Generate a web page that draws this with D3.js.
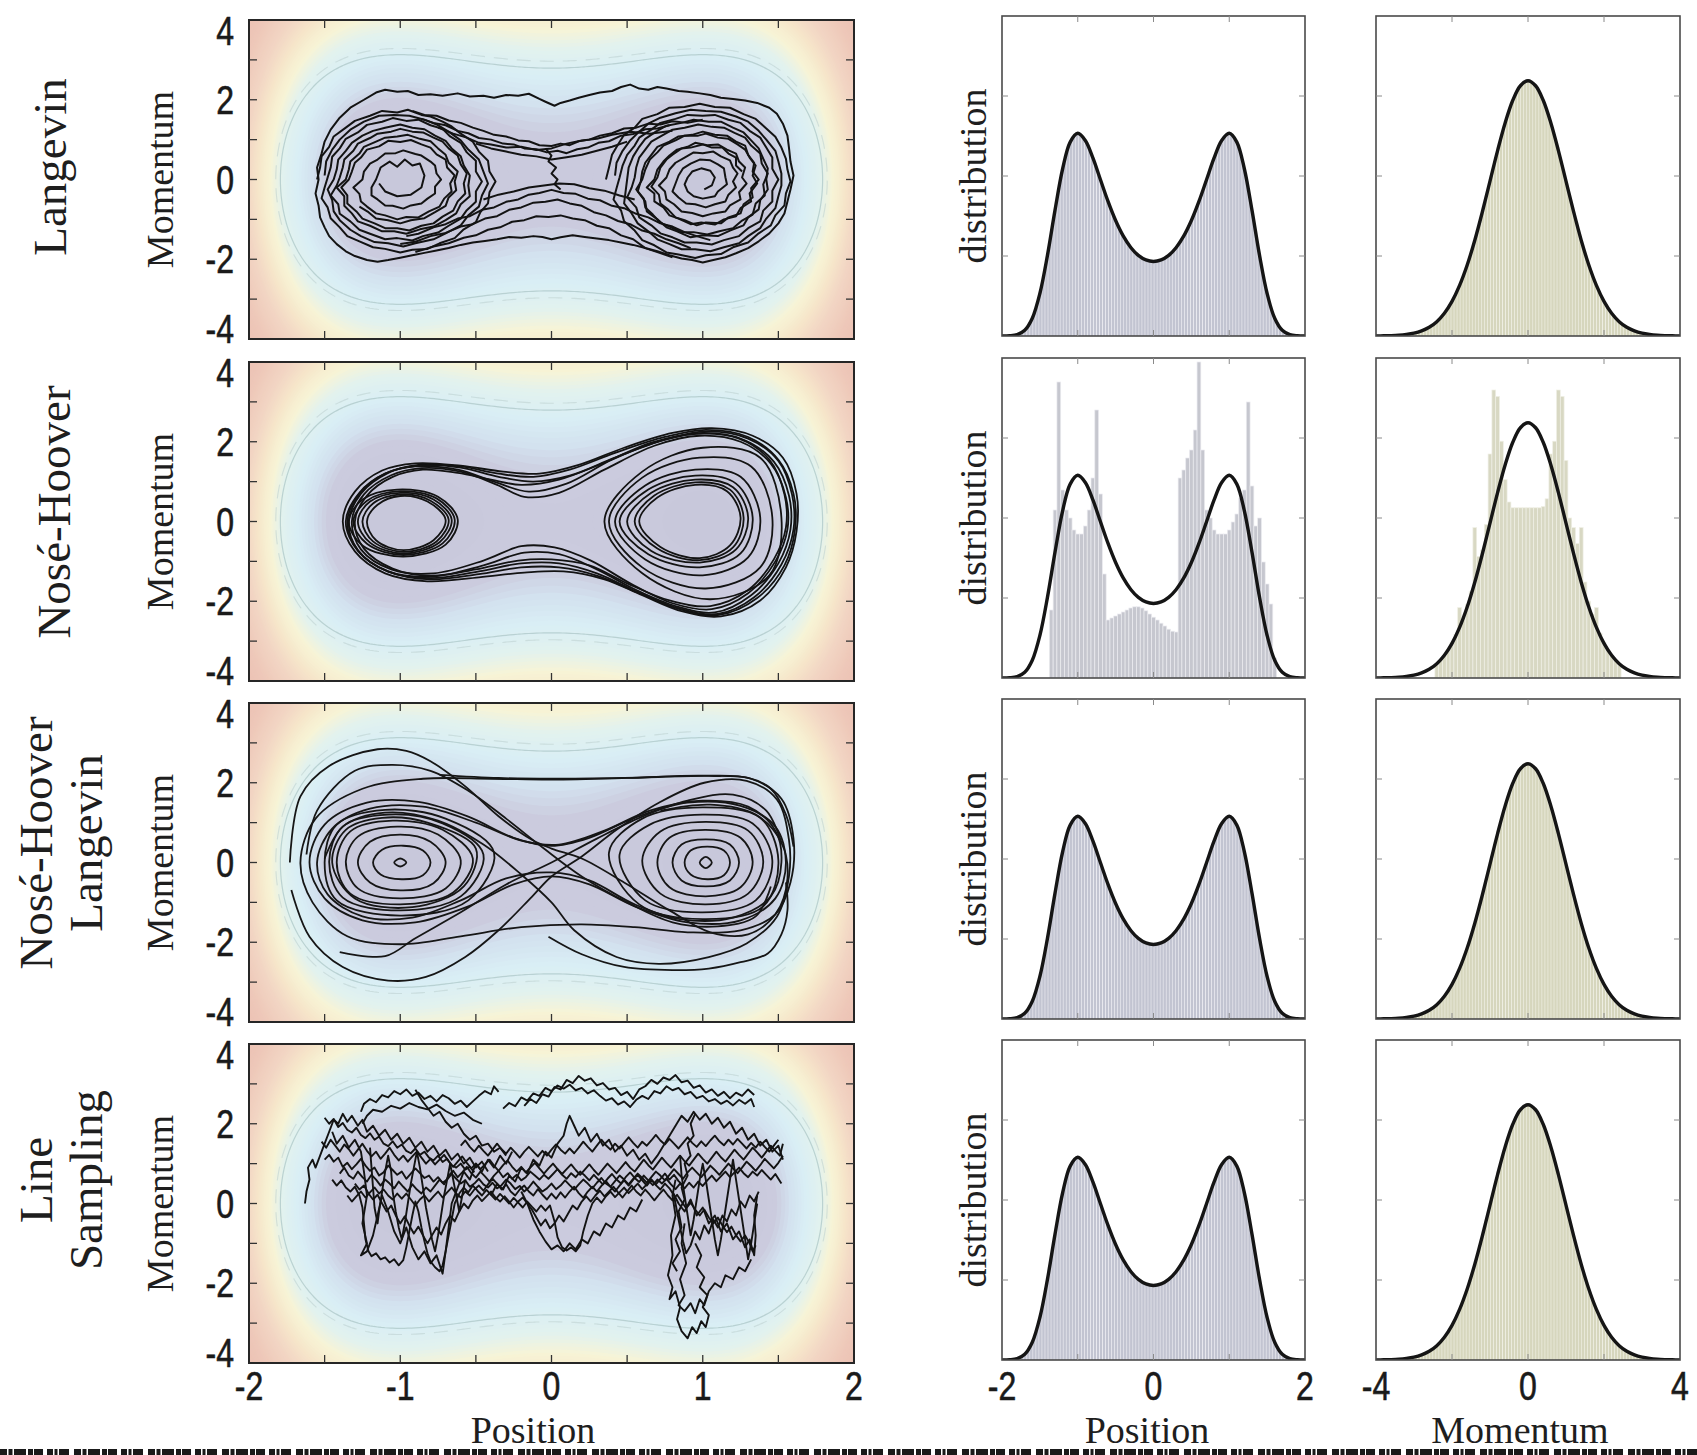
<!DOCTYPE html>
<html>
<head>
<meta charset="utf-8">
<script src="https://cdn.jsdelivr.net/npm/d3@7"></script>
<style>
  body { margin: 0; background: #fff; }
  svg { display: block; }
  .serif { font-family: "Liberation Serif", "DejaVu Serif", serif; fill: #1e1e1e; }
  .tick-label { font-family: "Liberation Sans", Arial, sans-serif; fill: #1a1a1a; stroke: #1a1a1a; stroke-width: 0.6; }
</style>
</head>
<body>
<svg id="fig" width="1697" height="1455"></svg>
<script>
// ---- data ----
var rowLabels = [["Langevin"], ["Nosé-Hoover"], ["Nosé-Hoover", "Langevin"], ["Line", "Sampling"]];

var leftXTicks = [-2, -1.5, -1, -0.5, 0, 0.5, 1, 1.5, 2];
var leftXLabels = [-2, -1, 0, 1, 2];
var leftYTicks = [-4, -3, -2, -1, 0, 1, 2, 3, 4];
var leftYLabels = [4, 2, 0, -2, -4];
var posXTicks = [-1, 0, 1];
var posXLabels = [-2, 0, 2];
var momXTicks = [-2, 0, 2];
var momXLabels = [-4, 0, 4];
var posYTicks = [0.2, 0.4, 0.6];
var momYTicks = [0.125, 0.25, 0.375];

// target densities (black curves)
var posGrid = [-2,-1.9,-1.8,-1.7,-1.6,-1.5,-1.4,-1.3,-1.2,-1.1,-1,-0.9,-0.8,-0.7,-0.6,-0.5,-0.4,-0.3,-0.2,-0.1,0,
  0.1,0.2,0.3,0.4,0.5,0.6,0.7,0.8,0.9,1,1.1,1.2,1.3,1.4,1.5,1.6,1.7,1.8,1.9,2];
var posDensity = [0.0001,0.0006,0.0034,0.0142,0.0444,0.1062,0.2016,0.3147,0.4175,0.4848,0.5067,0.4887,0.4451,0.3906,0.3364,0.2887,0.2502,0.2214,0.2016,0.1902,0.1864,
  0.1902,0.2016,0.2214,0.2502,0.2887,0.3364,0.3906,0.4451,0.4887,0.5067,0.4848,0.4175,0.3147,0.2016,0.1062,0.0444,0.0142,0.0034,0.0006,0.0001];
var momGrid = [-4,-3.8,-3.6,-3.4,-3.2,-3,-2.8,-2.6,-2.4,-2.2,-2,-1.8,-1.6,-1.4,-1.2,-1,-0.8,-0.6,-0.4,-0.2,0,
  0.2,0.4,0.6,0.8,1,1.2,1.4,1.6,1.8,2,2.2,2.4,2.6,2.8,3,3.2,3.4,3.6,3.8,4];
var momDensity = [0.0001,0.0003,0.0006,0.0012,0.0024,0.0044,0.0079,0.0136,0.0224,0.0355,0.0540,0.0790,0.1109,0.1497,0.1942,0.2420,0.2897,0.3332,0.3683,0.3910,0.3989,
  0.3910,0.3683,0.3332,0.2897,0.2420,0.1942,0.1497,0.1109,0.0790,0.0540,0.0355,0.0224,0.0136,0.0079,0.0044,0.0024,0.0012,0.0006,0.0003,0.0001];

// Nosé-Hoover histograms (the only ones that depart from the target)
var nhPosStart = -1.375, nhPosWidth = 0.05;
var nhPosCounts = [0.17,0.42,0.74,0.47,0.42,0.40,0.37,0.36,0.36,0.38,0.42,0.50,0.67,0.46,0.26,
  0.145,0.15,0.155,0.16,0.165,0.17,0.175,0.178,0.178,0.175,0.168,0.16,0.152,0.145,0.137,0.13,0.122,0.117,0.115,
  0.50,0.52,0.55,0.57,0.62,0.79,0.57,0.42,0.40,0.37,0.36,0.36,0.36,0.37,0.39,0.41,0.45,0.47,0.69,0.48,0.38,0.40,0.29,0.235,0.185,0.05];
var nhMomStart = -2.45, nhMomWidth = 0.1;
var nhMomCounts = [0.02,0.027,0.035,0.045,0.056,0.068,0.11,0.095,0.115,0.135,0.235,0.19,0.2,0.24,0.35,0.45,0.44,0.37,0.31,0.275,
  0.266,0.266,0.266,0.266,0.266,0.266,0.266,0.266,0.268,0.28,0.35,0.37,0.45,0.44,0.34,0.25,0.235,0.21,0.235,0.15,0.12,0.1,0.11,0.07,0.056,0.045,0.035,0.027,0.02];

// energy-contour levels drawn over the phase-space background
var contourSolid = [4.9];
var contourDashed = [5.4];

// trajectories, "x,p x,p ..." in data units
var langevinPaths = [
 "-1.55,0.0 -1.53,0.3 -1.52,0.58 -1.47,0.82 -1.44,1.08 -1.36,1.3 -1.3,1.47 -1.2,1.6 -1.12,1.72 -1.02,1.68 -0.95,1.75 -0.86,1.62 -0.8,1.58 -0.72,1.45 -0.66,1.33 -0.6,1.15 -0.52,0.95 -0.48,0.7 -0.42,0.47 -0.41,0.2 -0.37,-0.05 -0.41,-0.32 -0.42,-0.6 -0.47,-0.82 -0.5,-1.07 -0.58,-1.25 -0.64,-1.47 -0.74,-1.6 -0.82,-1.74 -0.92,-1.76 -1.0,-1.83 -1.1,-1.74 -1.18,-1.7 -1.27,-1.55 -1.35,-1.42 -1.4,-1.2 -1.46,-0.97 -1.48,-0.7 -1.52,-0.47 -1.5,-0.2 -1.48,0.05 -1.46,0.3 -1.45,0.57 -1.4,0.78 -1.36,1.02 -1.28,1.18 -1.22,1.37 -1.12,1.45 -1.05,1.54 -0.96,1.47 -0.88,1.5 -0.8,1.36 -0.72,1.27 -0.67,1.08 -0.6,0.92 -0.56,0.68 -0.5,0.47 -0.5,0.2 -0.46,-0.05 -0.5,-0.3 -0.5,-0.56 -0.56,-0.77 -0.6,-0.98 -0.68,-1.16 -0.75,-1.33 -0.85,-1.42 -0.92,-1.53 -1.02,-1.47 -1.1,-1.5 -1.2,-1.36 -1.27,-1.26 -1.33,-1.05 -1.4,-0.86 -1.41,-0.62 -1.46,-0.4 -1.42,-0.15 -1.4,0.05 -1.38,0.3 -1.37,0.5 -1.31,0.72 -1.28,0.9 -1.2,1.04 -1.15,1.15 -1.06,1.2 -1.0,1.27 -0.92,1.2 -0.85,1.18 -0.78,1.05 -0.72,0.95 -0.68,0.78 -0.62,0.6 -0.6,0.38 -0.56,0.15 -0.58,-0.1 -0.57,-0.35 -0.62,-0.55 -0.65,-0.78 -0.72,-0.93 -0.78,-1.1 -0.86,-1.16 -0.94,-1.28 -1.02,-1.22 -1.1,-1.22 -1.17,-1.1 -1.25,-0.98 -1.29,-0.8 -1.35,-0.6 -1.35,-0.4 -1.39,-0.2 -1.34,0.0 -1.32,0.2 -1.3,0.42 -1.26,0.55 -1.22,0.75 -1.14,0.83 -1.08,0.97 -1.0,0.94 -0.93,0.99 -0.86,0.88 -0.8,0.8 -0.76,0.63 -0.7,0.5 -0.69,0.3 -0.64,0.1 -0.67,-0.1 -0.66,-0.3 -0.71,-0.48 -0.74,-0.68 -0.81,-0.8 -0.88,-0.95 -0.96,-0.94 -1.02,-1.0 -1.1,-0.9 -1.16,-0.85 -1.22,-0.68 -1.26,-0.55 -1.27,-0.36 -1.31,-0.2 -1.25,0.0 -1.24,0.2 -1.2,0.4 -1.15,0.5 -1.1,0.65 -1.03,0.66 -0.98,0.73 -0.9,0.64 -0.86,0.6 -0.8,0.45 -0.77,0.35 -0.76,0.15 -0.73,0.0 -0.77,-0.18 -0.77,-0.35 -0.82,-0.48 -0.86,-0.6 -0.93,-0.65 -0.98,-0.73 -1.05,-0.66 -1.1,-0.65 -1.15,-0.5 -1.19,-0.4 -1.19,-0.2 -1.16,0.0 -1.13,0.3 -1.07,0.45 -1.02,0.32 -0.97,0.5 -0.92,0.35 -0.87,0.4 -0.84,0.1 -0.86,-0.2 -0.93,-0.38 -1.02,-0.42 -1.1,-0.3 -1.14,-0.1",
 "-1.5,0.1 -1.49,0.45 -1.45,0.75 -1.4,1.0 -1.33,1.25 -1.24,1.45 -1.14,1.6 -1.04,1.62 -0.94,1.6 -0.84,1.5 -0.76,1.38 -0.68,1.2 -0.6,0.98 -0.55,0.75 -0.48,0.5 -0.45,0.2 -0.42,-0.1 -0.46,-0.4 -0.48,-0.68 -0.55,-0.9 -0.6,-1.15 -0.7,-1.35 -0.78,-1.5 -0.9,-1.6 -0.98,-1.68 -1.08,-1.6 -1.17,-1.57 -1.26,-1.42 -1.33,-1.26 -1.4,-1.02 -1.44,-0.8 -1.45,-0.52 -1.48,-0.25 -1.44,0.0 -1.42,0.25 -1.41,0.5 -1.36,0.72 -1.32,0.92 -1.25,1.1 -1.18,1.22 -1.1,1.3 -1.0,1.38 -0.92,1.3 -0.84,1.26 -0.77,1.1 -0.7,0.97 -0.66,0.78 -0.6,0.58 -0.58,0.35 -0.54,0.1 -0.55,-0.15 -0.54,-0.42 -0.6,-0.62 -0.63,-0.85 -0.7,-1.02 -0.78,-1.18 -0.87,-1.25 -0.96,-1.36 -1.04,-1.3 -1.12,-1.3 -1.2,-1.16 -1.28,-1.05 -1.32,-0.85 -1.37,-0.66 -1.37,-0.42 -1.42,-0.2 -1.36,0.0 -1.34,0.25 -1.33,0.45 -1.27,0.65 -1.24,0.82 -1.16,0.95 -1.1,1.05 -1.02,1.08 -0.95,1.12 -0.87,1.02 -0.8,0.96 -0.75,0.78 -0.7,0.62 -0.68,0.42 -0.62,0.2 -0.64,-0.05 -0.63,-0.27 -0.68,-0.45 -0.7,-0.66 -0.77,-0.82 -0.84,-0.97 -0.93,-1.02 -1.0,-1.1 -1.08,-1.02 -1.16,-0.98 -1.21,-0.82 -1.27,-0.68",
 "0.36,0.0 0.38,0.3 0.4,0.62 0.44,0.88 0.48,1.12 0.55,1.3 0.6,1.52 0.7,1.64 0.78,1.8 0.88,1.82 0.98,1.9 1.08,1.82 1.18,1.8 1.27,1.64 1.35,1.52 1.42,1.28 1.48,1.07 1.52,0.8 1.55,0.52 1.56,0.25 1.58,-0.05 1.55,-0.35 1.54,-0.65 1.48,-0.9 1.45,-1.15 1.37,-1.35 1.3,-1.58 1.2,-1.7 1.12,-1.87 1.02,-1.9 0.95,-1.97 0.84,-1.88 0.76,-1.83 0.68,-1.65 0.6,-1.52 0.55,-1.28 0.48,-1.05 0.46,-0.78 0.41,-0.5 0.43,-0.22 0.45,0.05 0.47,0.35 0.5,0.62 0.55,0.85 0.58,1.05 0.66,1.25 0.72,1.42 0.82,1.52 0.9,1.62 1.0,1.6 1.08,1.62 1.17,1.5 1.25,1.42 1.31,1.22 1.38,1.05 1.42,0.8 1.46,0.55 1.46,0.27 1.5,0.0 1.46,-0.28 1.46,-0.55 1.4,-0.78 1.38,-1.05 1.3,-1.22 1.24,-1.42 1.14,-1.52 1.06,-1.63 0.96,-1.58 0.88,-1.58 0.8,-1.45 0.72,-1.35 0.66,-1.15 0.58,-0.95 0.56,-0.7 0.5,-0.45 0.53,-0.2 0.55,0.05 0.56,0.3 0.58,0.55 0.62,0.75 0.66,0.95 0.73,1.1 0.8,1.25 0.88,1.3 0.97,1.38 1.06,1.32 1.14,1.3 1.21,1.17 1.28,1.05 1.32,0.85 1.38,0.65 1.39,0.4 1.43,0.15 1.4,-0.12 1.41,-0.4 1.35,-0.6 1.33,-0.88 1.26,-1.03 1.2,-1.22 1.11,-1.3 1.03,-1.38 0.94,-1.32 0.86,-1.32 0.78,-1.18 0.72,-1.08 0.67,-0.88 0.62,-0.7 0.61,-0.48 0.56,-0.25 0.6,0.0 0.62,0.25 0.65,0.5 0.7,0.68 0.74,0.85 0.82,0.98 0.88,1.1 0.97,1.1 1.02,1.15 1.1,1.05 1.17,1.02 1.23,0.88 1.28,0.75 1.31,0.55 1.35,0.35 1.33,0.1 1.36,-0.1 1.31,-0.35 1.32,-0.55 1.25,-0.72 1.22,-0.92 1.14,-1.0 1.08,-1.13 0.99,-1.08 0.92,-1.12 0.84,-0.98 0.78,-0.9 0.74,-0.7 0.68,-0.55 0.68,-0.35 0.63,-0.2 0.68,0.0 0.7,0.25 0.74,0.45 0.78,0.6 0.83,0.75 0.9,0.82 0.95,0.92 1.03,0.86 1.1,0.88 1.16,0.75 1.22,0.65 1.24,0.45 1.28,0.3 1.26,0.05 1.29,-0.1 1.24,-0.32 1.25,-0.5 1.18,-0.65 1.15,-0.8 1.07,-0.85 1.0,-0.92 0.93,-0.84 0.86,-0.8 0.81,-0.62 0.76,-0.5 0.75,-0.3 0.71,-0.15 0.76,0.05 0.78,0.25 0.82,0.42 0.88,0.55 0.94,0.68 1.0,0.66 1.07,0.7 1.12,0.58 1.18,0.48 1.2,0.3 1.23,0.15 1.2,-0.05 1.22,-0.2 1.17,-0.38 1.15,-0.55 1.08,-0.62 1.02,-0.7 0.95,-0.62 0.89,-0.6 0.84,-0.45 0.8,-0.3 0.82,-0.1 0.84,0.1 0.87,0.28 0.92,0.4 0.98,0.5 1.05,0.48 1.1,0.38 1.14,0.28 1.15,0.05 1.16,-0.12 1.1,-0.3 1.08,-0.42 1.0,-0.48 0.94,-0.42 0.9,-0.3 0.88,-0.12 0.9,0.05 0.93,0.2 0.99,0.28 1.05,0.22 1.08,0.05 1.06,-0.15 1.01,-0.25",
 "0.42,0.1 0.43,0.42 0.47,0.72 0.52,0.98 0.58,1.2 0.64,1.4 0.72,1.55 0.82,1.66 0.92,1.75 1.02,1.72 1.12,1.7 1.22,1.58 1.3,1.45 1.37,1.22 1.42,1.0 1.48,0.72 1.5,0.45 1.52,0.15 1.52,-0.15 1.5,-0.42 1.48,-0.72 1.42,-0.98 1.38,-1.22 1.3,-1.42 1.24,-1.6 1.14,-1.7 1.05,-1.8 0.95,-1.75 0.86,-1.75 0.78,-1.62 0.7,-1.5 0.64,-1.3 0.57,-1.1 0.53,-0.85 0.48,-0.6 0.49,-0.3 0.5,0.0 0.51,0.3 0.54,0.58 0.58,0.82 0.62,1.02 0.69,1.2 0.76,1.35 0.86,1.42 0.94,1.5 1.04,1.45 1.12,1.45 1.2,1.3 1.27,1.18 1.32,0.98 1.37,0.78 1.4,0.52 1.43,0.28 1.42,0.0 1.43,-0.25 1.38,-0.52 1.37,-0.75 1.3,-0.95 1.27,-1.15 1.18,-1.28 1.1,-1.42 1.0,-1.4 0.92,-1.45 0.83,-1.3 0.76,-1.2 0.7,-1.0 0.63,-0.8 0.62,-0.55 0.57,-0.3 0.59,-0.05 0.6,0.2 0.62,0.42 0.66,0.62 0.7,0.82 0.78,0.95 0.84,1.08 0.93,1.12 1.0,1.2 1.08,1.12 1.16,1.1 1.22,0.95 1.28,0.85 1.3,0.62 1.34,0.42 1.33,0.2 1.37,0.0 1.32,-0.22 1.33,-0.45 1.27,-0.62 1.25,-0.85 1.17,-0.95 1.12,-1.1 1.02,-1.08 0.96,-1.15 0.88,-1.02 0.82,-0.95 0.77,-0.75 0.72,-0.6 0.71,-0.38 0.66,-0.18 0.7,0.05 0.72,0.3 0.76,0.5 0.8,0.62 0.86,0.78 0.92,0.8 1.0,0.88 1.06,0.8 1.13,0.8 1.17,0.65 1.22,0.55 1.22,0.35 1.26,0.2",
 "-1.24,2.0 -1.16,2.18 -1.1,2.25 -1.02,2.2 -0.95,2.22 -0.88,2.12 -0.8,2.14 -0.72,2.1 -0.62,2.16 -0.54,2.08 -0.45,2.1 -0.38,2.05 -0.3,2.12 -0.22,2.1 -0.15,2.15 -0.08,2.02 -0.04,1.95 0.02,1.85 0.06,1.92 0.12,1.98 0.18,2.05 0.25,2.12 0.32,2.18 0.4,2.22 0.46,2.32 0.52,2.38 0.58,2.28 0.64,2.25 0.7,2.32 0.76,2.28 0.84,2.22 0.9,2.2 0.98,2.16 1.05,2.12 1.12,2.05 1.2,2.02 1.28,1.98 1.36,1.92 1.44,1.8 1.49,1.65 1.53,1.4 1.56,1.1 1.57,0.8 1.58,0.45 1.6,0.1 1.58,-0.25 1.56,-0.55 1.54,-0.85 1.5,-1.1 1.44,-1.35 1.37,-1.55 1.3,-1.72 1.22,-1.85 1.15,-1.95 1.07,-2.02 1.0,-2.08 0.93,-2.02 0.86,-1.98 0.78,-1.9 0.7,-1.8 0.62,-1.72 0.54,-1.64 0.46,-1.58 0.38,-1.52 0.3,-1.48 0.22,-1.44 0.14,-1.4 0.06,-1.45 0.0,-1.5 -0.06,-1.44 -0.12,-1.42 -0.2,-1.46 -0.28,-1.44 -0.36,-1.5 -0.44,-1.54 -0.52,-1.58 -0.6,-1.64 -0.68,-1.72 -0.76,-1.78 -0.84,-1.84 -0.92,-1.9 -1.0,-1.96 -1.08,-2.02 -1.15,-2.06 -1.22,-2.02 -1.3,-1.92 -1.36,-1.8 -1.42,-1.62 -1.47,-1.42 -1.5,-1.2 -1.53,-0.95 -1.54,-0.65 -1.56,-0.35 -1.54,0.0 -1.55,0.3 -1.52,0.65 -1.5,0.95 -1.46,1.25 -1.4,1.55 -1.33,1.8 -1.24,2.0",
 "-0.92,1.72 -0.84,1.62 -0.76,1.6 -0.68,1.48 -0.6,1.42 -0.52,1.3 -0.45,1.22 -0.38,1.12 -0.3,1.08 -0.22,0.98 -0.15,0.96 -0.08,0.86 0.0,0.84 0.06,0.9 0.12,0.86 0.18,0.96 0.25,1.0 0.32,1.1 0.4,1.16 0.48,1.28 0.56,1.3 0.64,1.4 0.72,1.38 0.8,1.46 0.9,1.42 1.0,1.5",
 "-0.86,1.52 -0.78,1.42 -0.7,1.36 -0.62,1.22 -0.55,1.16 -0.48,1.04 -0.4,1.0 -0.32,0.9 -0.25,0.88 -0.18,0.78 -0.1,0.76 -0.03,0.68 0.04,0.72 0.1,0.66 0.17,0.76 0.24,0.8 0.31,0.92 0.38,0.96 0.46,1.1 0.54,1.14 0.62,1.26 0.7,1.28 0.78,1.36",
 "-0.75,1.3 -0.65,1.15 -0.56,1.05 -0.48,0.92 -0.4,0.88 -0.3,0.8 -0.2,0.82 -0.1,0.74 0.0,0.78 0.1,0.9 0.2,0.98 0.3,1.02 0.4,1.12 0.52,1.2 0.65,1.15 0.8,1.22",
 "1.05,-1.52 0.96,-1.42 0.88,-1.32 0.8,-1.18 0.72,-1.1 0.64,-0.95 0.56,-0.86 0.48,-0.72 0.4,-0.66 0.32,-0.52 0.24,-0.48 0.16,-0.36 0.08,-0.34 0.0,-0.26 -0.08,-0.34 -0.15,-0.38 -0.22,-0.5 -0.3,-0.56 -0.38,-0.7 -0.46,-0.76 -0.54,-0.92 -0.62,-0.98 -0.7,-1.12 -0.78,-1.2 -0.88,-1.36 -0.96,-1.42",
 "0.92,-1.72 0.84,-1.6 0.76,-1.5 0.68,-1.36 0.6,-1.28 0.52,-1.12 0.44,-1.04 0.36,-0.9 0.28,-0.82 0.2,-0.66 0.12,-0.6 0.04,-0.5 -0.04,-0.56 -0.12,-0.58 -0.2,-0.7 -0.28,-0.76 -0.36,-0.92 -0.44,-0.98 -0.52,-1.12 -0.6,-1.18 -0.7,-1.34 -0.8,-1.42 -0.9,-1.56 -1.0,-1.62",
 "0.8,-1.95 0.7,-1.82 0.62,-1.72 0.54,-1.5 0.46,-1.4 0.38,-1.22 0.3,-1.16 0.22,-1.02 0.14,-0.98 0.06,-0.9 -0.02,-0.94 -0.1,-0.92 -0.18,-1.02 -0.26,-1.06 -0.34,-1.2 -0.42,-1.26 -0.5,-1.4 -0.58,-1.46 -0.68,-1.6 -0.78,-1.68 -0.9,-1.82",
 "-0.04,0.78 0.0,0.6 -0.02,0.45 0.03,0.3 0.0,0.15 0.04,0.0 0.02,-0.12 0.06,-0.25",
 "-0.5,0.9 -0.4,0.78 -0.3,0.7 -0.2,0.62 -0.1,0.58 0.0,0.5 0.1,0.56 0.2,0.62 0.3,0.72 0.4,0.82 0.5,0.95",
 "0.55,-0.5 0.45,-0.4 0.35,-0.28 0.25,-0.22 0.15,-0.12 0.05,-0.1 -0.05,-0.15 -0.15,-0.2 -0.25,-0.3 -0.35,-0.38 -0.45,-0.5"
];

var noseHooverLoops = [
 "-1.25,0 -1.18,0.45 -1.0,0.68 -0.8,0.52 -0.68,0.05 -0.76,-0.5 -0.98,-0.76 -1.18,-0.5",
 "-1.28,0 -1.2,0.5 -1.0,0.72 -0.78,0.55 -0.66,0.05 -0.74,-0.52 -0.98,-0.8 -1.2,-0.53",
 "-1.31,0 -1.22,0.52 -1.0,0.76 -0.76,0.58 -0.64,0.05 -0.72,-0.55 -0.98,-0.84 -1.22,-0.56",
 "-1.22,0 -1.15,0.42 -1.0,0.64 -0.82,0.5 -0.7,0.04 -0.78,-0.47 -0.98,-0.72 -1.16,-0.47",
 "-1.34,0 -1.25,0.55 -1.02,0.8 -0.75,0.62 -0.62,0.05 -0.7,-0.58 -0.98,-0.88 -1.25,-0.6",
 "-1.34,0 -1.26,0.7 -1.08,1.22 -0.88,1.42 -0.6,1.38 -0.35,1.2 -0.12,1.12 0.12,1.3 0.42,1.72 0.75,2.12 1.02,2.3 1.3,2.12 1.5,1.55 1.6,0.7 1.61,-0.2 1.54,-1.1 1.36,-1.92 1.1,-2.35 0.85,-2.2 0.58,-1.8 0.32,-1.38 0.05,-1.15 -0.2,-1.15 -0.48,-1.32 -0.8,-1.45 -1.08,-1.25 -1.28,-0.72",
 "-1.36,0 -1.27,0.72 -1.1,1.2 -0.9,1.38 -0.62,1.3 -0.38,1.0 -0.15,0.75 0.1,0.95 0.4,1.55 0.72,2.02 1.0,2.22 1.27,2.05 1.47,1.5 1.57,0.65 1.58,-0.2 1.5,-1.05 1.32,-1.85 1.08,-2.28 0.82,-2.12 0.55,-1.7 0.3,-1.2 0.05,-0.82 -0.18,-0.78 -0.45,-1.1 -0.78,-1.38 -1.08,-1.25 -1.28,-0.74",
 "-1.32,0 -1.24,0.68 -1.06,1.16 -0.86,1.34 -0.6,1.25 -0.36,0.92 -0.18,0.62 0.05,0.72 0.35,1.3 0.68,1.9 0.98,2.15 1.25,2.0 1.45,1.45 1.55,0.6 1.56,-0.2 1.48,-1.0 1.3,-1.8 1.06,-2.2 0.8,-2.05 0.52,-1.55 0.26,-0.98 0.02,-0.65 -0.2,-0.62 -0.45,-0.98 -0.78,-1.3 -1.06,-1.2 -1.26,-0.7",
 "-1.38,0 -1.3,0.75 -1.12,1.28 -0.9,1.46 -0.6,1.4 -0.32,1.25 -0.08,1.2 0.18,1.42 0.48,1.85 0.8,2.22 1.06,2.34 1.33,2.15 1.53,1.6 1.62,0.7 1.62,-0.25 1.55,-1.15 1.38,-1.98 1.12,-2.38 0.86,-2.25 0.6,-1.85 0.35,-1.45 0.08,-1.25 -0.18,-1.28 -0.48,-1.4 -0.82,-1.5 -1.1,-1.3 -1.3,-0.75",
 "-1.3,0 -1.22,0.65 -1.05,1.12 -0.85,1.3 -0.62,1.22 -0.4,1.05 -0.2,0.92 0.05,1.05 0.35,1.48 0.66,1.98 0.96,2.2 1.24,2.08 1.44,1.55 1.54,0.68 1.55,-0.15 1.47,-0.95 1.3,-1.72 1.05,-2.12 0.78,-1.98 0.5,-1.55 0.25,-1.1 0.0,-0.95 -0.22,-0.98 -0.5,-1.2 -0.8,-1.36 -1.05,-1.18 -1.24,-0.68",
 "-1.35,0 -1.27,0.7 -1.1,1.2 -0.88,1.4 -0.6,1.35 -0.35,1.12 -0.12,1.0 0.12,1.15 0.42,1.6 0.75,2.05 1.02,2.26 1.3,2.08 1.5,1.52 1.59,0.68 1.6,-0.2 1.52,-1.08 1.34,-1.9 1.1,-2.32 0.84,-2.18 0.56,-1.75 0.3,-1.3 0.05,-1.05 -0.2,-1.05 -0.48,-1.25 -0.8,-1.42 -1.08,-1.26 -1.28,-0.72",
 "0.55,0 0.68,0.65 0.95,0.98 1.18,0.8 1.27,0.1 1.2,-0.65 0.98,-0.97 0.7,-0.68",
 "0.5,0 0.66,0.72 0.95,1.05 1.2,0.86 1.3,0.1 1.22,-0.7 0.98,-1.03 0.66,-0.74",
 "0.58,0 0.7,0.6 0.95,0.92 1.16,0.76 1.25,0.1 1.18,-0.6 0.98,-0.92 0.72,-0.64",
 "0.45,0 0.64,0.8 0.95,1.15 1.22,0.95 1.33,0.1 1.25,-0.8 0.98,-1.15 0.64,-0.82",
 "0.42,0 0.62,0.9 0.95,1.3 1.25,1.12 1.38,0.1 1.3,-0.9 1.0,-1.35 0.62,-0.95",
 "0.38,0 0.6,1.1 0.98,1.6 1.32,1.38 1.46,0.1 1.38,-1.15 1.02,-1.68 0.6,-1.15",
 "0.35,0 0.6,1.25 1.0,1.85 1.38,1.6 1.52,0.1 1.44,-1.35 1.05,-1.95 0.6,-1.3"
];

var nhlLoops = [
 "-1.04,0 -1.0,0.1 -0.96,0 -1.0,-0.1",
 "-1.18,0 -1.12,0.32 -0.98,0.42 -0.85,0.3 -0.8,0 -0.85,-0.32 -0.99,-0.42 -1.13,-0.3",
 "-1.28,0 -1.2,0.52 -1.0,0.7 -0.8,0.52 -0.7,0.02 -0.78,-0.52 -1.0,-0.7 -1.2,-0.5",
 "-1.36,0.02 -1.28,0.65 -1.02,0.9 -0.75,0.7 -0.6,0.05 -0.7,-0.65 -1.0,-0.9 -1.28,-0.65",
 "-1.42,0 -1.33,0.78 -1.05,1.05 -0.72,0.82 -0.52,0.1 -0.65,-0.75 -1.0,-1.05 -1.33,-0.78",
 "-1.47,0.02 -1.38,0.9 -1.08,1.2 -0.72,0.98 -0.45,0.2 -0.6,-0.85 -1.0,-1.2 -1.38,-0.88",
 "-1.5,0 -1.42,0.95 -1.1,1.32 -0.7,1.1 -0.38,0.25 -0.55,-0.95 -1.0,-1.33 -1.42,-0.95",
 "-1.45,0 -1.36,0.82 -1.12,1.12 -0.82,1.0 -0.5,0.35 -0.58,-0.6 -0.92,-1.12 -1.3,-0.9",
 "0.98,0 1.02,0.14 1.06,0 1.02,-0.14",
 "0.88,0 0.92,0.3 1.03,0.4 1.14,0.3 1.18,0 1.14,-0.32 1.03,-0.42 0.92,-0.3",
 "0.8,0 0.86,0.45 1.02,0.58 1.18,0.45 1.24,0 1.18,-0.45 1.02,-0.6 0.86,-0.45",
 "0.7,0 0.78,0.62 1.02,0.82 1.25,0.62 1.33,0.02 1.25,-0.62 1.02,-0.85 0.78,-0.62",
 "0.6,0.05 0.72,0.78 1.02,1.02 1.3,0.8 1.4,0.02 1.3,-0.78 1.02,-1.05 0.72,-0.78",
 "0.45,0.2 0.65,0.95 1.0,1.2 1.33,0.98 1.46,0.05 1.35,-0.95 1.0,-1.25 0.62,-0.95",
 "0.38,0.25 0.6,1.1 1.0,1.38 1.38,1.12 1.5,0.05 1.4,-1.1 1.0,-1.42 0.58,-1.05",
 "-1.6,0 -1.5,0.95 -1.22,1.5 -0.88,1.52 -0.55,1.15 -0.25,0.62 0.0,0.42 0.25,0.62 0.55,1.12 0.9,1.5 1.25,1.42 1.48,0.9 1.55,0 1.48,-0.9 1.25,-1.45 0.9,-1.5 0.55,-1.1 0.25,-0.55 0.0,-0.35 -0.25,-0.55 -0.55,-1.1 -0.9,-1.5 -1.25,-1.45 -1.5,-0.9",
 "-1.66,0 -1.56,1.1 -1.25,1.85 -0.85,2.1 -0.4,2.1 0.0,2.08 0.5,2.12 1.0,2.18 1.32,2.1 1.52,1.6 1.6,0.6 1.58,-0.5 1.48,-1.3 1.25,-1.7 0.9,-1.75 0.55,-1.62 0.2,-1.55 -0.2,-1.62 -0.6,-1.85 -1.0,-2.05 -1.35,-1.85 -1.58,-1.0",
 "-1.55,0 -1.45,0.85 -1.2,1.35 -0.85,1.4 -0.5,1.0 -0.2,0.55 0.05,0.45 0.35,0.8 0.65,1.3 1.0,1.55 1.3,1.4 1.48,0.8 1.52,0 1.45,-0.85 1.2,-1.38 0.85,-1.42 0.55,-1.05 0.25,-0.45 0.0,-0.25 -0.3,-0.4 -0.6,-0.95 -0.92,-1.38 -1.25,-1.35 -1.48,-0.8"
];
var nhlPaths = [
 "-1.73,0 -1.66,1.66 -1.47,2.42 -1.15,2.84 -0.96,2.8 -0.8,2.54 -0.57,1.91 -0.35,1.16 -0.13,0.57 0.0,0.35 0.2,0.1 0.48,-0.5 0.78,-1.2 1.05,-1.75 1.3,-1.8 1.48,-1.3 1.56,-0.4 1.52,0.5 1.35,1.2 1.05,1.45 0.72,1.3",
 "-1.72,-0.69 -1.6,-1.86 -1.38,-2.62 -1.08,-2.96 -0.83,-2.87 -0.57,-2.37 -0.35,-1.7 -0.13,-0.86 0.0,-0.35 0.2,0.15 0.43,0.82 0.71,1.5 1.01,2.0 1.29,2.05 1.49,1.58 1.57,0.57 1.57,-0.35 1.49,-1.36 1.29,-2.03 1.04,-2.37 0.71,-2.54 0.43,-2.37 0.15,-1.7 0.0,-1.0 -0.2,-0.3 -0.45,0.45 -0.75,1.05 -1.1,1.25 -1.38,0.9 -1.5,0.1",
 "-1.62,0.2 -1.55,1.3 -1.3,2.3 -1.05,2.45 -0.8,2.3 -0.55,1.8 -0.3,1.1 -0.05,0.35 0.2,-0.35 0.5,-1.0 0.8,-1.5 1.1,-1.6 1.35,-1.35 1.45,-0.6",
 "-1.4,-2.25 -1.1,-2.35 -0.9,-1.9 -0.6,-1.25 -0.3,-0.55 0.0,0.0 0.3,0.6 0.6,1.15 0.9,1.55 1.2,1.7 1.42,1.3 1.52,0.5",
 "-0.02,-1.86 0.2,-2.3 0.48,-2.62 0.8,-2.7 1.04,-2.66 1.25,-2.5 1.43,-2.28 1.52,-1.8 1.56,-1.2 1.55,-0.5",
 "-0.74,2.2 -0.35,2.12 0.0,2.1 0.48,2.12 1.04,2.17 1.3,2.12 1.45,1.85 1.55,1.2 1.6,0.4"
];

var lineSamplingPaths = [
 "-0.18,2.45 -0.14,2.62 -0.1,2.52 -0.06,2.74 -0.02,2.68 0.02,2.92 0.06,2.86 0.1,3.1 0.14,3.02 0.18,3.2 0.22,3.08 0.26,3.14 0.3,2.96 0.34,3.02 0.38,2.86 0.42,2.9 0.46,2.72 0.5,2.8 0.54,2.62 0.58,2.86 0.62,2.94 0.66,3.1 0.7,3.0 0.74,3.16 0.78,3.1 0.82,3.22 0.86,3.04 0.9,3.08 0.94,2.9 0.98,2.96 1.02,2.78 1.06,2.86 1.1,2.7 1.14,2.8 1.18,2.64 1.22,2.78 1.26,2.7 1.3,2.86 1.34,2.72",
 "-0.32,2.38 -0.28,2.52 -0.24,2.44 -0.2,2.66 -0.16,2.58 -0.12,2.76 -0.08,2.7 -0.04,2.9 0.0,2.82 0.04,2.96 0.08,2.88 0.12,2.98 0.16,2.84 0.2,2.9 0.24,2.76 0.28,2.84 0.32,2.7 0.36,2.58 0.4,2.64 0.44,2.48 0.48,2.56 0.52,2.42 0.56,2.6 0.6,2.7 0.64,2.62 0.68,2.82 0.72,2.76 0.76,2.94 0.8,2.84 0.84,2.9 0.88,2.74 0.92,2.8 0.96,2.64 1.0,2.7 1.04,2.56 1.08,2.62 1.12,2.5 1.16,2.58 1.2,2.46 1.24,2.6 1.28,2.5 1.32,2.62 1.34,2.42",
 "-1.26,2.3 -1.24,2.5 -1.2,2.62 -1.16,2.54 -1.12,2.72 -1.08,2.66 -1.04,2.82 -1.0,2.74 -0.96,2.86 -0.92,2.7 -0.88,2.78 -0.84,2.62 -0.8,2.7 -0.76,2.56 -0.72,2.72 -0.68,2.64 -0.64,2.5 -0.6,2.58 -0.56,2.42 -0.52,2.56 -0.48,2.7 -0.44,2.82 -0.4,2.74 -0.38,2.94 -0.35,2.8",
 "-1.25,2.0 -1.22,2.2 -1.18,2.35 -1.12,2.3 -1.06,2.45 -1.0,2.38 -0.94,2.52 -0.88,2.42 -0.82,2.36 -0.76,2.48 -0.7,2.32 -0.64,2.2 -0.58,2.28 -0.52,2.1 -0.46,2.0",
 "-1.5,1.1 -1.47,1.22 -1.44,1.05 -1.41,1.15 -1.38,0.92 -1.35,1.02 -1.32,0.86 -1.29,0.98 -1.26,1.12 -1.23,0.95 -1.2,0.82 -1.17,0.9 -1.14,0.7 -1.11,0.78 -1.08,0.95 -1.05,0.84 -1.02,0.72 -0.99,0.8 -0.96,0.62 -0.93,0.75 -0.9,0.88 -0.87,0.76 -0.84,0.64 -0.81,0.7 -0.78,0.55 -0.75,0.66 -0.72,0.52 -0.69,0.6 -0.66,0.74 -0.63,0.62 -0.6,0.5 -0.57,0.58 -0.54,0.42 -0.51,0.5 -0.48,0.62 -0.45,0.48 -0.42,0.4 -0.39,0.52 -0.36,0.38 -0.33,0.46 -0.3,0.6 -0.27,0.5 -0.24,0.36 -0.21,0.44 -0.18,0.3 -0.15,0.4 -0.12,0.55 -0.09,0.42 -0.06,0.3 -0.03,0.38 0.0,0.5 0.03,0.36 0.06,0.45 0.09,0.58 0.12,0.46 0.15,0.35 0.18,0.48 0.21,0.6 0.24,0.5 0.27,0.38 0.3,0.52 0.33,0.64 0.36,0.5 0.39,0.42 0.42,0.56 0.45,0.7 0.48,0.6 0.51,0.48 0.54,0.62 0.57,0.75 0.6,0.64 0.63,0.52 0.66,0.66 0.69,0.8 0.72,0.7 0.75,0.58 0.78,0.72 0.81,0.86 0.84,0.74 0.87,0.62 0.9,0.78 0.93,0.9 0.96,0.78 0.99,0.66 1.02,0.8 1.05,0.95 1.08,0.84 1.11,0.72 1.14,0.86 1.17,1.0 1.2,0.88 1.23,0.76 1.26,0.9 1.29,1.05 1.32,0.94 1.35,0.82 1.38,0.96 1.41,1.12 1.44,1.0 1.47,0.88 1.5,1.02 1.53,1.2",
 "-1.45,0.6 -1.42,0.45 -1.39,0.58 -1.36,0.4 -1.33,0.3 -1.3,0.42 -1.27,0.2 -1.25,-0.1 -1.24,-0.5 -1.23,-0.9 -1.21,-1.2 -1.19,-1.32 -1.16,-1.25 -1.13,-1.4 -1.1,-1.35 -1.07,-1.48 -1.04,-1.4 -1.01,-1.55 -0.98,-1.42 -0.96,-1.1 -0.94,-0.7 -0.92,-0.3 -0.9,0.05 -0.88,-0.2 -0.86,-0.6 -0.84,-0.95 -0.82,-1.25 -0.8,-1.45 -0.77,-1.6 -0.74,-1.7 -0.72,-1.55 -0.7,-1.2 -0.68,-0.8 -0.66,-0.4 -0.64,0.0 -0.61,0.25 -0.58,0.4 -0.55,0.28 -0.52,0.45 -0.49,0.32 -0.46,0.2 -0.43,0.34 -0.4,0.22 -0.37,0.1 -0.34,0.24 -0.31,0.12 -0.28,0.0 -0.25,0.14 -0.22,0.02 -0.19,-0.1 -0.16,0.05 -0.13,-0.08 -0.1,-0.2 -0.07,-0.05 -0.04,-0.18 -0.01,-0.05 0.02,-0.45 0.04,-0.85 0.07,-1.1 0.1,-1.18 0.13,-1.1 0.16,-1.2 0.19,-1.05 0.21,-0.7 0.24,-0.3 0.27,0.0 0.3,0.15 0.33,0.02 0.36,0.18 0.39,0.3 0.42,0.16 0.45,0.28 0.48,0.4 0.51,0.26 0.54,0.38 0.57,0.5 0.6,0.36 0.63,0.48 0.66,0.6 0.69,0.46 0.72,0.35 0.75,0.5 0.78,0.38 0.81,0.2 0.83,-0.2 0.85,-0.6 0.87,-0.95 0.89,-1.25 0.92,-1.05 0.95,-0.7 0.98,-0.9 1.01,-0.55 1.04,-0.75 1.07,-0.4 1.1,-0.6 1.13,-0.3 1.16,-0.45 1.19,-0.15 1.22,-0.3 1.25,0.05 1.28,-0.1 1.31,0.2 1.34,0.05 1.37,0.3",
 "-1.52,1.55 -1.49,1.4 -1.46,1.6 -1.43,1.45 -1.4,1.3 -1.37,1.48 -1.34,1.36 -1.31,1.2 -1.28,1.35 -1.25,1.5 -1.22,1.32 -1.19,1.18 -1.16,1.3 -1.13,1.12 -1.1,1.25 -1.07,1.4 -1.04,1.22 -1.01,1.08 -0.98,1.2 -0.95,1.05 -0.92,1.18 -0.89,1.3 -0.86,1.15 -0.83,1.0 -0.8,1.12 -0.77,0.98 -0.74,1.1 -0.71,1.22 -0.68,1.06 -0.65,0.92 -0.62,1.05 -0.59,1.18 -0.56,1.02 -0.53,0.88 -0.5,1.0 -0.47,0.86 -0.44,0.98 -0.41,1.1 -0.38,0.95 -0.35,0.82 -0.32,0.96 -0.29,1.08 -0.26,0.92 -0.23,0.8 -0.2,0.92 -0.17,0.78 -0.14,0.9 -0.11,1.02 -0.08,0.88 -0.05,0.75 -0.02,0.88 0.01,1.0 0.04,0.86 0.07,0.74 0.1,0.86 0.13,0.98 0.16,0.84 0.19,0.72 0.22,0.85 0.25,0.98 0.28,0.84 0.31,0.72 0.34,0.86 0.37,1.0 0.4,0.88 0.43,0.76 0.46,0.9 0.49,1.04 0.52,0.9 0.55,0.8 0.58,0.95 0.61,1.1 0.64,0.96 0.67,0.85 0.7,1.0 0.73,1.15 0.76,1.02 0.79,0.9 0.82,1.05 0.85,1.2 0.88,1.06 0.91,0.95 0.94,1.1 0.97,1.25 1.0,1.12 1.03,1.0 1.06,1.15 1.09,1.3 1.12,1.16 1.15,1.05 1.18,1.2 1.21,1.35 1.24,1.22 1.27,1.1 1.3,1.25 1.33,1.4 1.36,1.28 1.39,1.15 1.42,1.3 1.45,1.45 1.48,1.32 1.51,1.2 1.53,1.5",
 "-1.3,0.5 -1.27,0.35 -1.24,0.45 -1.21,0.25 -1.18,0.1 -1.15,0.22 -1.12,0.0 -1.09,-0.2 -1.06,-0.05 -1.03,-0.3 -1.0,-0.5 -0.97,-0.32 -0.94,-0.55 -0.91,-0.75 -0.88,-0.58 -0.85,-0.8 -0.82,-1.0 -0.79,-0.8 -0.76,-0.6 -0.73,-0.78 -0.7,-0.5 -0.67,-0.3 -0.64,-0.45 -0.61,-0.2 -0.58,0.0 -0.55,-0.12 -0.52,0.08 -0.49,0.2 -0.46,0.06 -0.43,0.18 -0.4,0.3 -0.37,0.15 -0.34,0.05 -0.31,0.18 -0.28,0.05 -0.25,-0.1 -0.22,0.05 -0.19,0.15 -0.16,0.0 -0.13,-0.15 -0.1,-0.35 -0.07,-0.55 -0.04,-0.4 -0.01,-0.62 0.02,-0.5 0.05,-0.3 0.08,-0.45 0.11,-0.25 0.14,-0.05 0.17,-0.15 0.2,0.05 0.23,0.18 0.26,0.05 0.29,0.2 0.32,0.32 0.35,0.18 0.38,0.3 0.41,0.42 0.44,0.28 0.47,0.15 0.5,0.3 0.53,0.45 0.56,0.3 0.59,0.2 0.62,0.35 0.65,0.22 0.68,0.08 0.71,0.22 0.74,0.35 0.77,0.2 0.8,0.08 0.83,0.22 0.86,0.05 0.89,-0.12 0.92,0.02 0.95,-0.15 0.98,-0.3 1.01,-0.15 1.04,-0.35 1.07,-0.5 1.1,-0.35 1.13,-0.55 1.16,-0.72 1.19,-0.58 1.22,-0.8 1.25,-0.95 1.28,-0.8 1.31,-1.0 1.33,-1.2 1.35,-1.05",
 "-1.4,0.75 -1.37,0.9 -1.34,0.7 -1.31,0.62 -1.28,0.8 -1.25,0.66 -1.22,0.55 -1.19,0.72 -1.16,0.6 -1.13,0.45 -1.1,0.6 -1.07,0.5 -1.04,0.38 -1.01,0.55 -0.98,0.42 -0.95,0.3 -0.92,0.48 -0.89,0.35 -0.86,0.25 -0.83,0.4 -0.8,0.3 -0.77,0.45 -0.74,0.6 -0.71,0.48 -0.68,0.7 -0.65,0.82 -0.62,0.66 -0.59,0.78 -0.56,0.92 -0.53,0.76 -0.5,0.65 -0.47,0.8 -0.44,0.68 -0.41,0.55 -0.38,0.7 -0.35,0.82 -0.32,0.66 -0.29,0.76 -0.26,0.62 -0.23,0.72 -0.2,0.58 -0.17,0.66 -0.14,0.8 -0.11,0.7 -0.08,0.6 -0.05,0.72 -0.02,0.62 0.01,0.74 0.04,0.86 0.07,0.72 0.1,0.62 0.13,0.76 0.16,0.66 0.19,0.8 0.22,0.7 0.25,0.58 0.28,0.72 0.31,0.6 0.34,0.48 0.37,0.62 0.4,0.74 0.43,0.6 0.46,0.5 0.49,0.66 0.52,0.78 0.55,0.64 0.58,0.54 0.61,0.7 0.64,0.58 0.67,0.46 0.7,0.6 0.73,0.5 0.76,0.62 0.79,0.48 0.82,0.36 0.85,0.5 0.88,0.38 0.91,0.52 0.94,0.4 0.97,0.55 1.0,0.44 1.03,0.58 1.06,0.7 1.09,0.56 1.12,0.68 1.15,0.8 1.18,0.66 1.21,0.78 1.24,0.9 1.27,0.76 1.3,0.66 1.33,0.8 1.36,0.7 1.39,0.84 1.42,0.72 1.45,0.6 1.48,0.74 1.52,0.5",
 "-1.35,0.2 -1.32,0.05 -1.29,0.18 -1.26,0.3 -1.23,0.15 -1.2,0.28 -1.17,0.4 -1.14,0.25 -1.11,0.35 -1.08,0.2 -1.05,0.1 -1.02,0.25 -0.99,0.12 -0.96,0.25 -0.93,0.1 -0.9,-0.05 -0.87,0.1 -0.84,0.2 -0.81,0.05 -0.78,0.18 -0.75,0.3 -0.72,0.15 -0.69,0.28 -0.66,0.4 -0.63,0.25 -0.6,0.15 -0.57,0.3 -0.54,0.2 -0.51,0.35 -0.48,0.45 -0.45,0.32 -0.42,0.48 -0.39,0.62 -0.36,0.5 -0.33,0.35 -0.3,0.48 -0.27,0.3 -0.24,0.2 -0.21,0.35 -0.18,0.45 -0.15,0.3 -0.12,0.2 -0.09,0.36 -0.06,0.22 -0.03,0.1 0.0,0.25 0.03,0.12 0.06,0.28 0.09,0.15 0.12,0.3 0.15,0.42 0.18,0.26 0.21,0.14 0.24,0.3 0.27,0.42 0.3,0.3 0.33,0.44 0.36,0.56 0.39,0.42 0.42,0.3 0.45,0.45 0.48,0.58 0.51,0.45 0.54,0.6 0.57,0.72 0.6,0.58 0.63,0.45 0.66,0.6 0.69,0.48 0.72,0.62 0.75,0.75 0.78,0.6 0.81,0.72 0.84,0.56 0.87,0.45",
 "-0.6,1.45 -0.57,1.58 -0.54,1.42 -0.51,1.3 -0.48,1.45 -0.45,1.32 -0.42,1.2 -0.39,1.35 -0.36,1.5 -0.33,1.36 -0.3,1.25 -0.27,1.4 -0.24,1.28 -0.21,1.15 -0.18,1.3 -0.15,1.42 -0.12,1.3 -0.09,1.18 -0.06,1.32 -0.03,1.2 0.0,1.35 0.03,1.48 0.06,1.35 0.09,1.25 0.12,1.38 0.15,1.26 0.18,1.4 0.21,1.55 0.24,1.42 0.27,1.3 0.3,1.45 0.33,1.6 0.36,1.46 0.39,1.35 0.42,1.5 0.45,1.38 0.48,1.52 0.51,1.66 0.54,1.52 0.57,1.4 0.6,1.55 0.63,1.45 0.66,1.58 0.69,1.72 0.72,1.58 0.75,1.48 0.78,1.62 0.81,1.5 0.84,1.38 0.87,1.52 0.9,1.66 0.93,1.52 0.96,1.42 0.99,1.56 1.02,1.44 1.05,1.58 1.08,1.7 1.11,1.56 1.14,1.46 1.17,1.6 1.2,1.48 1.23,1.62 1.26,1.5 1.29,1.38 1.32,1.52 1.35,1.4 1.38,1.55 1.41,1.42 1.44,1.3 1.47,1.45 1.5,1.6",
 "-1.2,1.4 -1.19,0.9 -1.18,0.4 -1.17,-0.1 -1.15,-0.5 -1.14,-0.2 -1.12,0.3 -1.1,0.8 -1.08,1.2 -1.06,0.8 -1.05,0.3 -1.03,-0.2 -1.01,-0.6 -0.99,-0.9 -0.97,-0.5 -0.95,0.0 -0.93,0.5 -0.91,0.9 -0.89,1.3 -0.87,0.9 -0.85,0.4 -0.83,-0.1 -0.81,-0.5 -0.79,-0.9 -0.77,-1.2 -0.75,-0.8 -0.73,-0.3 -0.71,0.2 -0.69,0.6 -0.67,1.0 -0.65,0.6 -0.63,0.2 -0.61,-0.2 -0.59,0.2 -0.57,0.6",
 "0.85,1.2 0.86,0.7 0.88,0.2 0.9,-0.3 0.92,-0.8 0.94,-0.4 0.96,0.1 0.98,0.6 1.0,1.0 1.02,0.6 1.04,0.1 1.06,-0.4 1.08,-0.9 1.1,-1.3 1.12,-0.9 1.14,-0.4 1.16,0.1 1.18,0.6 1.2,1.1 1.22,0.6 1.24,0.1 1.26,-0.4 1.28,-0.9 1.3,-1.4 1.32,-1.0 1.34,-0.5 1.36,0.0",
 "0.82,0.6 0.8,0.2 0.82,-0.3 0.79,-0.8 0.8,-1.3 0.77,-1.8 0.8,-2.1 0.78,-2.4 0.82,-2.2 0.85,-2.6 0.83,-2.9 0.86,-3.2 0.9,-3.38 0.93,-3.1 0.96,-3.25 0.99,-2.95 1.02,-3.1 1.04,-2.8 1.0,-2.6 1.03,-2.3 0.98,-2.1 1.01,-1.85 0.96,-1.6 0.99,-1.3 0.95,-1.0",
 "0.88,-0.5 0.86,-1.0 0.89,-1.5 0.85,-1.9 0.88,-2.3 0.84,-2.55 0.88,-2.7 0.92,-2.5 0.95,-2.75 0.98,-2.4 1.01,-2.55 1.04,-2.2 1.08,-2.0 1.12,-2.1 1.15,-1.8 1.2,-1.9 1.24,-1.6 1.28,-1.7 1.32,-1.4",
 "0.8,0.3 0.84,0.0 0.88,-0.2 0.92,0.1 0.96,-0.3 1.0,-0.1 1.04,-0.5 1.08,-0.3 1.12,-0.7 1.16,-0.5 1.2,-0.9 1.24,-0.7 1.28,-1.1 1.31,-0.9 1.34,-1.3 1.35,-0.8 1.34,-0.3 1.36,0.2",
 "-1.63,0.0 -1.62,0.3 -1.6,0.6 -1.61,0.9 -1.58,1.1 -1.56,0.9 -1.53,1.2 -1.5,1.5 -1.47,1.8 -1.44,2.1 -1.41,2.0 -1.38,2.25 -1.35,2.05 -1.32,2.2 -1.28,1.95 -1.25,2.1 -1.22,1.8 -1.18,1.95 -1.14,1.7 -1.1,1.85 -1.06,1.6 -1.02,1.75 -0.98,1.5 -0.94,1.65 -0.9,1.4 -0.86,1.55 -0.82,1.3 -0.78,1.45 -0.74,1.2 -0.7,1.35 -0.66,1.1 -0.62,1.25 -0.58,1.0 -0.54,1.15 -0.5,0.9 -0.46,1.05 -0.42,0.8",
 "-1.45,1.8 -1.42,1.5 -1.38,1.7 -1.34,1.4 -1.3,1.6 -1.26,1.3 -1.24,0.8 -1.22,0.2 -1.25,-0.5 -1.22,-1.0 -1.26,-1.3 -1.22,-1.2 -1.18,-0.8 -1.15,-0.3 -1.12,0.2 -1.08,-0.2 -1.04,-0.7 -1.0,-1.0 -0.96,-0.6 -0.92,-1.1 -0.88,-1.4 -0.84,-1.2 -0.8,-1.5 -0.76,-1.3 -0.72,-1.76 -0.7,-1.2 -0.68,-0.6 -0.66,0.0 -0.62,0.4 -0.58,0.8 -0.54,0.6 -0.5,1.0 -0.46,0.8 -0.42,1.1 -0.38,0.9 -0.34,1.2 -0.3,1.0 -0.26,1.3",
 "-0.4,0.2 -0.36,0.5 -0.32,0.35 -0.28,0.7 -0.24,0.55 -0.2,0.9 -0.16,0.75 -0.12,1.1 -0.08,0.95 -0.04,1.3 0.0,1.15 0.04,1.5 0.08,1.7 0.1,2.0 0.12,2.2 0.15,1.95 0.18,1.7 0.22,1.9 0.26,1.55 0.3,1.75 0.34,1.45 0.38,1.6 0.42,1.3 0.46,1.45 0.5,1.2 0.54,1.35 0.58,1.1 0.62,1.25 0.66,1.0 0.7,1.2 0.74,1.45 0.78,1.7 0.82,1.95 0.86,2.2 0.9,2.05 0.94,2.3 0.98,2.1 1.02,2.25 1.06,2.0 1.1,2.15 1.14,1.9 1.18,2.05 1.22,1.75 1.26,1.9 1.3,1.6 1.34,1.75 1.38,1.45 1.42,1.6 1.46,1.3 1.5,1.45 1.53,1.1",
 "-1.5,2.15 -1.47,2.0 -1.44,2.12 -1.41,1.92 -1.38,2.02 -1.35,1.85 -1.32,1.78 -1.29,1.9 -1.26,1.72 -1.23,1.64 -1.2,1.76 -1.17,1.6 -1.14,1.68 -1.11,1.5 -1.08,1.44 -1.05,1.56 -1.02,1.4 -0.99,1.48 -0.96,1.32 -0.93,1.26 -0.9,1.38 -0.87,1.22 -0.84,1.3 -0.81,1.15 -0.78,1.08 -0.75,1.2 -0.72,1.04 -0.69,1.12 -0.66,0.96 -0.63,0.9 -0.6,1.0 -0.57,0.85 -0.54,0.92 -0.51,0.78",
 "-0.2,0.3 -0.16,0.0 -0.12,-0.4 -0.08,-0.7 -0.04,-0.95 0.0,-1.15 0.04,-1.05 0.08,-1.2 0.12,-1.0 0.16,-1.15 0.2,-0.9 0.24,-1.0 0.28,-0.7 0.32,-0.8 0.36,-0.5 0.4,-0.6 0.44,-0.3 0.48,-0.4 0.52,-0.1 0.56,-0.2 0.6,0.1",
 "-0.9,2.85 -0.86,2.6 -0.82,2.4 -0.78,2.2 -0.74,2.3 -0.7,2.05 -0.66,1.9 -0.62,2.0 -0.58,1.75 -0.54,1.6 -0.5,1.7 -0.46,1.45 -0.42,1.5 -0.38,1.3 -0.34,1.4 -0.3,1.2",
 "0.95,2.25 0.92,2.0 0.94,1.7 0.9,1.5 0.92,1.2 0.88,1.0 0.9,0.7 0.86,0.4 0.88,0.1 0.84,-0.2 0.86,-0.6 0.82,-0.9 0.85,-1.2 0.8,-1.5 0.83,-1.7"
];

// ---- layout ----
var W = 1697, H = 1455;
var LX = [249, 854], MX = [1002, 1305], RX = [1376, 1680];
var LT = [20, 362, 703, 1044], LH = 319;
var HT = [16, 358, 699, 1040], HH = 320;
var rowLabelBase = [[66], [70], [52, 102], [52, 102]];
var rowLabelMid = [167, 512, 843, 1180];

var svg = d3.select("#fig");
var defs = svg.append("defs");

function parsePath(s) {
  return s.trim().split(/\s+/).map(function(t){ return t.split(",").map(Number); });
}

// striped histogram fills
function stripe(id, base, light) {
  var p = defs.append("pattern").attr("id", id).attr("patternUnits", "userSpaceOnUse")
    .attr("width", 3.03).attr("height", 10);
  p.append("rect").attr("width", 3.03).attr("height", 10).attr("fill", base);
  p.append("rect").attr("x", 2.3).attr("width", 0.73).attr("height", 10).attr("fill", light);
}
stripe("stripePos", "#c2c4d1", "#ececf2");
stripe("stripeMom", "#d6d6bd", "#efefe4");

// ---- phase-space background (energy landscape) ----
var nx = 161, ny = 321, dx = 0.025, dp = 0.025;
function hamiltonian(x, p) { var u = x * x - 1; return u * u + p * p / 2; }
function shadeValue(x, p) { var u = x * x - 1; return 1.4 * u * u + p * p / 2; }
var shadeGrid = new Array(nx * ny), energyGrid = new Array(nx * ny);
for (var j = 0; j < ny; j++) {
  for (var i = 0; i < nx; i++) {
    var gx = -2 + i * dx, gp = -4 + j * dp;
    shadeGrid[j * nx + i] = shadeValue(gx, gp);
    energyGrid[j * nx + i] = hamiltonian(gx, gp);
  }
}
var bandThresholds = d3.range(0, 24, 0.3);
var shadeBands = d3.contours().size([nx, ny]).thresholds(bandThresholds)(shadeGrid);
var solidLines = d3.contours().size([nx, ny]).thresholds(contourSolid)(energyGrid);
var dashedLines = d3.contours().size([nx, ny]).thresholds(contourDashed)(energyGrid);

var landscape = d3.scaleLinear()
  .domain([0, 1.8, 3.0, 4.5, 6.5, 8.3, 10.5, 13, 17, 22])
  .range(["#c8c8db", "#cbcbde", "#d3e2ef", "#d9eef5", "#e2f2ee", "#f7f4d6", "#f6e6ca", "#f2d6c4", "#eec8b9", "#ebc0b3"])
  .clamp(true);

var trajectorySets = [
  { paths: langevinPaths, curve: d3.curveLinear, width: 2.0 },
  { paths: noseHooverLoops, curve: d3.curveCatmullRomClosed, width: 1.8 },
  null,
  { paths: lineSamplingPaths, curve: d3.curveLinear, width: 1.9 }
];

function tickText(g, x, y, str, anchor) {
  g.append("text").attr("class", "tick-label")
    .attr("transform", "translate(" + x + "," + y + ") scale(0.8,1)")
    .attr("text-anchor", anchor).attr("font-size", 40).text(str);
}

// ---- left column: phase space ----
LT.forEach(function(top, r) {
  var xs = d3.scaleLinear().domain([-2, 2]).range(LX);
  var ys = d3.scaleLinear().domain([-4, 4]).range([top + LH, top]);
  var g = svg.append("g");
  var clipId = "clipL" + r;
  defs.append("clipPath").attr("id", clipId).append("rect")
    .attr("x", LX[0]).attr("y", top).attr("width", LX[1] - LX[0]).attr("height", LH);
  var inner = g.append("g").attr("clip-path", "url(#" + clipId + ")");

  var gridToData = d3.geoTransform({
    point: function(cx, cy) {
      this.stream.point(xs(-2 + (cx - 0.5) * dx), ys(-4 + (cy - 0.5) * dp));
    }
  });
  var geo = d3.geoPath(gridToData);

  inner.selectAll("path.band").data(shadeBands).enter().append("path")
    .attr("class", "band").attr("d", geo)
    .attr("fill", function(d){ return landscape(d.value); }).attr("stroke", "none");
  inner.selectAll("path.lvl").data(solidLines).enter().append("path")
    .attr("class", "lvl").attr("d", geo).attr("fill", "none")
    .attr("stroke", "#a9c4c4").attr("stroke-width", 1.2).attr("opacity", 0.7);
  inner.selectAll("path.lvld").data(dashedLines).enter().append("path")
    .attr("class", "lvld").attr("d", geo).attr("fill", "none")
    .attr("stroke", "#b7cccc").attr("stroke-width", 1.1).attr("stroke-dasharray", "14,9").attr("opacity", 0.5);

  var tr = inner.append("g");
  if (r === 2) {
    var lc = d3.line().x(function(d){ return xs(d[0]); }).y(function(d){ return ys(d[1]); });
    tr.selectAll("path.loop").data(nhlLoops).enter().append("path").attr("class", "loop")
      .attr("d", function(s){ return lc.curve(d3.curveCatmullRomClosed)(parsePath(s)); })
      .attr("fill", "none").attr("stroke", "#161616").attr("stroke-width", 1.8);
    tr.selectAll("path.open").data(nhlPaths).enter().append("path").attr("class", "open")
      .attr("d", function(s){ return lc.curve(d3.curveCatmullRom)(parsePath(s)); })
      .attr("fill", "none").attr("stroke", "#161616").attr("stroke-width", 1.8);
  } else {
    var set = trajectorySets[r];
    var ln = d3.line().x(function(d){ return xs(d[0]); }).y(function(d){ return ys(d[1]); }).curve(set.curve);
    tr.selectAll("path.traj").data(set.paths).enter().append("path").attr("class", "traj")
      .attr("d", function(s){ return ln(parsePath(s)); })
      .attr("fill", "none").attr("stroke", "#131313").attr("stroke-width", set.width)
      .attr("stroke-linejoin", "round");
  }

  // frame and inward ticks
  g.append("rect").attr("x", LX[0]).attr("y", top).attr("width", LX[1] - LX[0]).attr("height", LH)
    .attr("fill", "none").attr("stroke", "#262626").attr("stroke-width", 2);
  var tk = g.append("g").attr("stroke", "#333").attr("stroke-width", 1.3);
  leftXTicks.slice(1, -1).forEach(function(v){
    tk.append("line").attr("x1", xs(v)).attr("x2", xs(v)).attr("y1", top + LH).attr("y2", top + LH - 8);
    tk.append("line").attr("x1", xs(v)).attr("x2", xs(v)).attr("y1", top).attr("y2", top + 8);
  });
  leftYTicks.slice(1, -1).forEach(function(v){
    tk.append("line").attr("x1", LX[0]).attr("x2", LX[0] + 8).attr("y1", ys(v)).attr("y2", ys(v));
    tk.append("line").attr("x1", LX[1]).attr("x2", LX[1] - 8).attr("y1", ys(v)).attr("y2", ys(v));
  });
  leftYLabels.forEach(function(v){
    var shift = v === 4 ? 11 : (v === -4 ? -10 : 0);
    tickText(g, 234, ys(v) + shift + 14, String(v), "end");
  });
  if (r === 3) {
    leftXLabels.forEach(function(v){ tickText(g, xs(v), 1400, String(v), "middle"); });
  }

  // axis label and row label
  g.append("text").attr("class", "serif").attr("font-size", 38)
    .attr("transform", "translate(173," + (top + LH / 2) + ") rotate(-90)")
    .attr("text-anchor", "middle").text("Momentum");
  rowLabels[r].forEach(function(txt, k){
    g.append("text").attr("class", "serif").attr("font-size", 47)
      .attr("transform", "translate(" + rowLabelBase[r][k] + "," + rowLabelMid[r] + ") rotate(-90)")
      .attr("text-anchor", "middle").text(txt);
  });
});

// ---- histogram columns ----
function histPanel(r, kind) {
  var isPos = kind === "pos";
  var X = isPos ? MX : RX;
  var top = HT[r];
  var xs = d3.scaleLinear().domain(isPos ? [-2, 2] : [-4, 4]).range(X);
  var ys = d3.scaleLinear().domain([0, isPos ? 0.8 : 0.5]).range([top + HH, top]);
  var grid = isPos ? posGrid : momGrid;
  var dens = isPos ? posDensity : momDensity;
  var g = svg.append("g");
  var clipId = "clipH" + kind + r;
  defs.append("clipPath").attr("id", clipId).append("rect")
    .attr("x", X[0]).attr("y", top).attr("width", X[1] - X[0]).attr("height", HH);
  var inner = g.append("g").attr("clip-path", "url(#" + clipId + ")");

  if (r === 1) {
    var counts = isPos ? nhPosCounts : nhMomCounts;
    var start = isPos ? nhPosStart : nhMomStart;
    var w = isPos ? nhPosWidth : nhMomWidth;
    inner.selectAll("rect.bar").data(counts).enter().append("rect").attr("class", "bar")
      .attr("x", function(d, i){ return xs(start + i * w); })
      .attr("width", xs(w) - xs(0))
      .attr("y", function(d){ return ys(d); })
      .attr("height", function(d){ return ys(0) - ys(d); })
      .attr("fill", isPos ? "#c6c7cf" : "#d8d8c3")
      .attr("stroke", isPos ? "#ececf0" : "#f0f0e6").attr("stroke-width", 0.7);
  } else {
    var area = d3.area().x(function(d, i){ return xs(grid[i]); })
      .y0(ys(0)).y1(function(d){ return ys(d); }).curve(d3.curveCatmullRom);
    inner.append("path").attr("d", area(dens)).attr("fill", isPos ? "url(#stripePos)" : "url(#stripeMom)");
  }
  var line = d3.line().x(function(d, i){ return xs(grid[i]); }).y(function(d){ return ys(d); })
    .curve(d3.curveCatmullRom);
  inner.append("path").attr("d", line(dens)).attr("fill", "none")
    .attr("stroke", "#151515").attr("stroke-width", 3.4).attr("stroke-linejoin", "round");

  g.append("rect").attr("x", X[0]).attr("y", top).attr("width", X[1] - X[0]).attr("height", HH)
    .attr("fill", "none").attr("stroke", "#4a4a4a").attr("stroke-width", 1.6);
  var tk = g.append("g").attr("stroke", "#8a8a8a").attr("stroke-width", 1);
  (isPos ? posXTicks : momXTicks).forEach(function(v){
    tk.append("line").attr("x1", xs(v)).attr("x2", xs(v)).attr("y1", top + HH).attr("y2", top + HH - 6);
    tk.append("line").attr("x1", xs(v)).attr("x2", xs(v)).attr("y1", top).attr("y2", top + 6);
  });
  (isPos ? posYTicks : momYTicks).forEach(function(v){
    tk.append("line").attr("x1", X[0]).attr("x2", X[0] + 6).attr("y1", ys(v)).attr("y2", ys(v));
    tk.append("line").attr("x1", X[1]).attr("x2", X[1] - 6).attr("y1", ys(v)).attr("y2", ys(v));
  });
  if (r === 3) {
    var labs = isPos ? posXLabels : momXLabels;
    labs.forEach(function(v){ tickText(g, xs(v), 1400, String(v), "middle"); });
  }
  if (isPos) {
    g.append("text").attr("class", "serif").attr("font-size", 38)
      .attr("transform", "translate(986," + (top + HH / 2) + ") rotate(-90)")
      .attr("text-anchor", "middle").text("distribution");
  }
}
[0, 1, 2, 3].forEach(function(r){ histPanel(r, "pos"); histPanel(r, "mom"); });

// bottom axis titles
svg.append("text").attr("class", "serif").attr("font-size", 38).attr("x", 533).attr("y", 1443)
  .attr("text-anchor", "middle").text("Position");
svg.append("text").attr("class", "serif").attr("font-size", 38).attr("x", 1147).attr("y", 1443)
  .attr("text-anchor", "middle").text("Position");
svg.append("text").attr("class", "serif").attr("font-size", 38).attr("x", 1520).attr("y", 1443)
  .attr("text-anchor", "middle").text("Momentum");

// cut-off caption line at the very bottom of the page
svg.append("line").attr("x1", 0).attr("x2", W).attr("y1", 1452).attr("y2", 1452)
  .attr("stroke", "#1a1a1a").attr("stroke-width", 6)
  .attr("stroke-dasharray", "7,1.5,4,1.5,12,2,5,1,9,4,6,1.5,3,1.5,10,5");
</script>
</body>
</html>
